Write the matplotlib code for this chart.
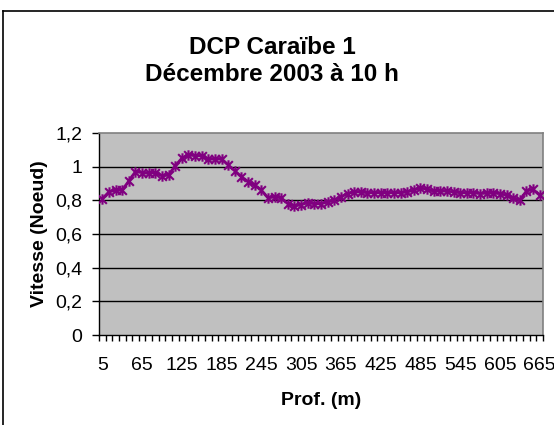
import matplotlib
matplotlib.use("Agg")
import matplotlib.pyplot as plt
from matplotlib.path import Path
from matplotlib.lines import Line2D
import numpy as np

plt.rcParams['font.family'] = ['Liberation Sans', 'DejaVu Sans']

depths = list(range(5, 666, 10))
speeds = [0.81, 0.85, 0.86, 0.86, 0.915, 0.97, 0.965, 0.96, 0.965, 0.945,
          0.95, 1.005, 1.05, 1.07, 1.065, 1.065, 1.045, 1.045, 1.045, 1.01,
          0.975, 0.94, 0.91, 0.89, 0.86, 0.815, 0.82, 0.815, 0.78, 0.765,
          0.775, 0.785, 0.78, 0.78, 0.79, 0.80, 0.82, 0.84, 0.85, 0.85,
          0.845, 0.845, 0.845, 0.845, 0.845, 0.845, 0.85, 0.86, 0.875, 0.865,
          0.855, 0.855, 0.855, 0.85, 0.845, 0.845, 0.845, 0.84, 0.843, 0.843,
          0.84, 0.83, 0.815, 0.80, 0.855, 0.865, 0.83]
yticks = [0, 0.2, 0.4, 0.6, 0.8, 1.0, 1.2]
ytick_labels = ["0", "0,2", "0,4", "0,6", "0,8", "1", "1,2"]
title = "DCP Caraïbe 1\nDécembre 2003 à 10 h"
xlabel = "Prof. (m)"
ylabel = "Vitesse (Noeud)"

W, H = 554, 425
fig = plt.figure(figsize=(W / 100, H / 100), dpi=100)
fig.patch.set_facecolor('white')

L, R, T, B = 99, 543, 133, 335
ax = fig.add_axes([L / W, 1 - B / H, (R - L) / W, (B - T) / H])
ax.set_facecolor('#C0C0C0')

x = np.arange(len(depths))
star = Path([(-1, -1), (1, 1), (-1, 1), (1, -1), (0, -1.2), (0, 1.2)],
            [Path.MOVETO, Path.LINETO, Path.MOVETO, Path.LINETO, Path.MOVETO, Path.LINETO])
ax.plot(x, speeds, color='#800080', linewidth=2, marker=star, markersize=7.5,
        markeredgewidth=1.5, markeredgecolor='#800080', zorder=3)

ax.set_xlim(-0.5, len(depths) - 0.5)
ax.set_ylim(0, 1.2)

ax.set_yticks(yticks)
ax.set_yticklabels(ytick_labels)
for yv in yticks[1:-1]:
    ax.axhline(yv, color='black', linewidth=1, zorder=1)

major = x[::6]
ax.set_xticks(major)
ax.set_xticklabels([str(depths[i]) for i in major])
ax.set_xticks(np.arange(-0.5, len(depths), 1.0), minor=True)
ax.tick_params(axis='x', which='major', length=0, pad=16, labelsize=14)
ax.tick_params(axis='x', which='minor', length=4, width=1, direction='out', color='black')
ax.tick_params(axis='y', which='major', length=5, width=1, direction='out', pad=7, labelsize=14)

for s in ['top', 'right']:
    ax.spines[s].set_color('#808080')
    ax.spines[s].set_linewidth(1.2)
for s in ['left', 'bottom']:
    ax.spines[s].set_color('black')
    ax.spines[s].set_linewidth(1)

ax.set_xlabel(xlabel, fontsize=14, fontweight='bold', labelpad=13)
ax.set_ylabel(ylabel, fontsize=14, fontweight='bold', labelpad=5)

fig.text(272 / W, 1 - 61 / H, title, ha='center', va='center', fontsize=17.5,
         fontweight='bold', linespacing=1.25)

# outer chart border (top and left visible)
fig.add_artist(Line2D([3.5 / W, 1.0], [1 - 10.5 / H, 1 - 10.5 / H], color='black', linewidth=1.2))
fig.add_artist(Line2D([3.5 / W, 3.5 / W], [0, 1 - 10.5 / H], color='black', linewidth=1.2))

fig.savefig('out.png', dpi=100)
